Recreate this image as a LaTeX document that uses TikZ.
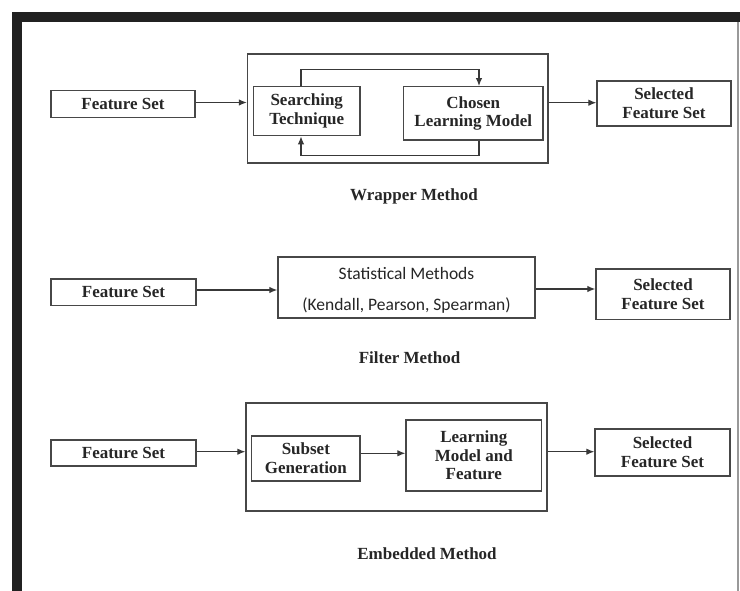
\documentclass[tikz,border=0pt]{standalone}
\usepackage{fontspec}
\setmainfont{Liberation Serif}
\newfontfamily\statfont{Carlito}
\usetikzlibrary{arrows.meta,calc}
\begin{document}
\begin{tikzpicture}[x=1pt,y=-1pt,
  lbl/.style={font=\bfseries\fontsize{17}{18.7}\selectfont, text=black!85},
  bx/.style={draw=black!72, line width=1.3pt, inner sep=0pt, align=center, lbl},
  outer/.style={draw=black!72, line width=1.3pt},
  arr/.style={draw=black!78, line width=1.2pt, -{Latex[length=8pt,width=6.5pt]}},
  caption/.style={font=\bfseries\fontsize{17}{19}\selectfont, text=black!85},
  stattext/.style={font=\statfont\fontsize{17.5}{19}\selectfont, text=black!85}]
\useasboundingbox (0,0) rectangle (740,591);
% frame
\fill[black!87] (12,12) rectangle (740,22);
\fill[black!87] (12,12) rectangle (22,591);
\fill[black!40] (736.5,22) rectangle (739,591);

% ---------- Wrapper ----------
\node[bx, minimum width=144pt, minimum height=26.5pt] (fs1) at (123,104) {Feature Set};
\node[outer, minimum width=300.5pt, minimum height=109pt, inner sep=0pt] (wrap) at (397.75,108.5) {};
\node[bx, minimum width=106.5pt, minimum height=49pt] (search) at (306.75,111.2) {Searching\\Technique};
\node[bx, minimum width=139.5pt, minimum height=53.3pt] (chosen) at (473.25,113.35) {Chosen\\Learning Model};
\node[bx, minimum width=134pt, minimum height=45pt] (sel1) at (664,103.5) {Selected\\Feature Set};
\coordinate (lt) at (301,69.5);
\coordinate (rt) at (479,69.5);
\coordinate (lb) at (301,155.5);
\coordinate (rb) at (479,155.5);
\draw[arr] (search.north -| lt) -- (lt) -- (rt) -- (chosen.north -| rt);
\draw[arr] (chosen.south -| rb) -- (rb) -- (lb) -- (search.south -| lb);
\draw[arr] (fs1.east |- 0,102.5) -- (wrap.west |- 0,102.5);
\draw[arr] (wrap.east |- 0,102.7) -- (sel1.west |- 0,102.7);
\node[caption] (cap1) at (414,196) {Wrapper Method};

% ---------- Filter ----------
\node[bx, minimum width=145pt, minimum height=26.7pt] (fs2) at (123.5,292.3) {Feature Set};
\node[draw=black!72, line width=1.3pt, minimum width=257pt, minimum height=61pt, inner sep=0pt] (stat) at (406.5,287.5) {};
\node[stattext] (st1) at (406.5,273) {Statistical Methods};
\node[stattext] (st2) at (406.5,305.5) {(Kendall, Pearson, Spearman)};
\node[bx, minimum width=134pt, minimum height=50.3pt] (sel2) at (663,294.2) {Selected\\Feature Set};
\draw[arr] (fs2.east |- 0,290) -- (stat.west |- 0,290);
\draw[arr] (stat.east |- 0,289) -- (sel2.west |- 0,289);
\node[caption] (cap2) at (409.5,358) {Filter Method};

% ---------- Embedded ----------
\node[bx, minimum width=145pt, minimum height=26pt] (fs3) at (123.5,453) {Feature Set};
\node[outer, minimum width=301pt, minimum height=108pt, inner sep=0pt] (emb) at (396.5,457) {};
\node[bx, minimum width=108.3pt, minimum height=45pt] (subset) at (305.85,458.5) {Subset\\Generation};
\node[bx, minimum width=135.7pt, minimum height=71pt] (learn) at (473.85,455.5) {Learning\\Model and\\Feature};
\node[bx, minimum width=135pt, minimum height=47pt] (sel3) at (662.5,452.5) {Selected\\Feature Set};
\draw[arr] (fs3.east |- 0,451.7) -- (emb.west |- 0,451.7);
\draw[arr] (subset.east |- 0,453.3) -- (learn.west |- 0,453.3);
\draw[arr] (emb.east |- 0,451.7) -- (sel3.west |- 0,451.7);
\node[caption] (cap3) at (427,554) {Embedded Method};
\end{tikzpicture}
\end{document}
